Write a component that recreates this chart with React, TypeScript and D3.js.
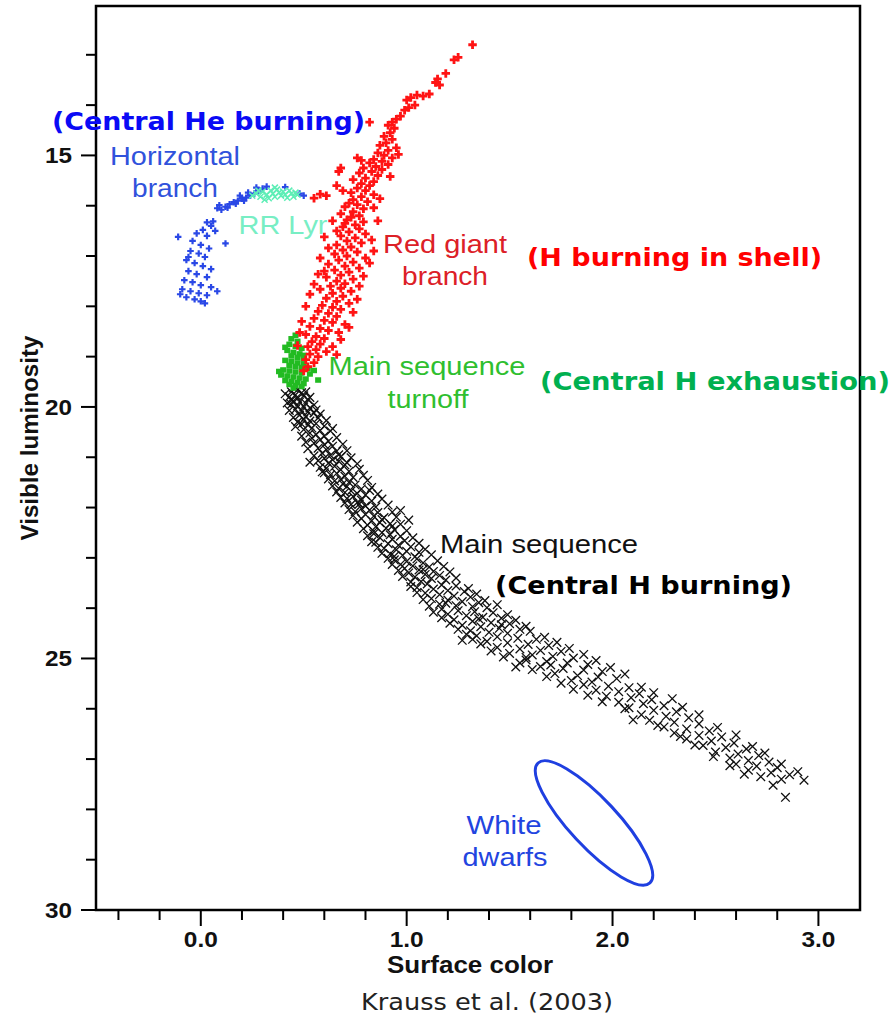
import React from "react";
import * as d3 from "d3";

// [surface colour, visible magnitude]
const mainSequence: [number, number][] = [
  [0.45,19.62],[0.47,19.66],[0.44,19.70],[0.49,19.72],[0.46,19.76],[0.50,19.78],[0.43,19.80],[0.47,19.83],[0.52,19.85],[0.45,19.88],[0.48,19.90],[0.51,19.93],[0.44,19.95],[0.47,19.98],[0.50,20.00],[0.53,20.02],
  [0.46,20.05],[0.49,20.08],[0.52,20.10],[0.55,20.12],[0.48,20.16],[0.51,20.19],[0.57,20.22],[0.50,20.25],[0.53,20.28],[0.47,20.30],[0.56,20.33],[0.52,20.36],[0.60,20.38],[0.54,20.42],[0.50,20.45],[0.58,20.47],[0.63,20.48],
  [0.53,20.52],[0.56,20.55],[0.60,20.58],[0.54,20.62],[0.58,20.65],[0.62,20.68],[0.55,20.72],[0.60,20.75],[0.64,20.78],[0.57,20.82],[0.61,20.85],[0.66,20.88],[0.59,20.92],[0.63,20.96],[0.68,20.99],
  [0.60,21.02],[0.64,21.05],[0.53,21.10],[0.67,21.08],[0.62,21.12],[0.70,21.15],[0.65,21.18],[0.61,21.22],[0.68,21.25],[0.72,21.28],[0.66,21.32],[0.63,21.35],[0.70,21.38],[0.74,21.40],[0.68,21.44],[0.65,21.47],[0.72,21.50],
  [0.69,21.53],[0.75,21.55],[0.71,21.58],[0.67,21.62],[0.78,21.63],[0.73,21.67],[0.70,21.70],[0.76,21.72],[0.80,21.75],[0.74,21.78],[0.71,21.82],[0.78,21.85],[0.83,21.87],[0.76,21.90],[0.73,21.94],[0.80,21.97],[0.85,21.99],
  [0.78,22.02],[0.82,22.05],[0.97,22.06],[0.75,22.08],[0.86,22.10],[0.80,22.14],[0.84,22.17],[0.89,22.20],[0.78,22.22],[1.01,22.25],[0.83,22.26],[0.87,22.30],[0.92,22.32],[0.81,22.35],[0.85,22.38],[0.90,22.41],[0.94,22.44],[0.84,22.47],[0.88,22.50],
  [0.84,22.52],[0.92,22.54],[0.97,22.57],[0.87,22.60],[0.93,22.63],[0.99,22.66],[0.85,22.69],[0.91,22.72],[0.96,22.75],[1.02,22.78],[0.89,22.81],[0.95,22.84],[1.00,22.87],[1.06,22.89],[0.92,22.92],[0.98,22.95],[1.04,22.98],
  [1.05,23.02],[0.94,23.04],[1.00,23.07],[1.08,23.10],[0.97,23.13],[1.03,23.16],[1.11,23.18],[0.99,23.21],[1.06,23.24],[1.13,23.27],[1.01,23.30],[1.09,23.33],[1.16,23.35],[1.04,23.38],[1.12,23.41],[1.19,23.44],[1.07,23.47],
  [1.10,23.52],[1.17,23.54],[1.24,23.56],[1.05,23.59],[1.13,23.62],[1.20,23.65],[1.28,23.67],[1.09,23.70],[1.16,23.73],[1.23,23.76],[1.31,23.78],[1.12,23.81],[1.20,23.84],[1.27,23.87],[1.35,23.89],[1.16,23.92],[1.24,23.95],[1.32,23.97],[1.39,23.99],
  [1.17,24.02],[1.25,24.05],[1.33,24.07],[1.42,24.09],[1.20,24.12],[1.29,24.15],[1.37,24.18],[1.46,24.20],[1.23,24.23],[1.32,24.26],[1.41,24.29],[1.50,24.31],[1.27,24.34],[1.36,24.37],[1.45,24.40],[1.55,24.42],[1.31,24.45],[1.40,24.48],[1.49,24.50],[1.27,24.64],[1.32,24.62],
  [1.34,24.55],[1.44,24.57],[1.54,24.60],[1.63,24.62],[1.39,24.66],[1.49,24.69],[1.59,24.72],[1.69,24.74],[1.44,24.78],[1.55,24.81],[1.65,24.84],[1.75,24.86],[1.50,24.90],[1.61,24.93],[1.71,24.96],[1.81,24.99],
  [1.53,25.17],[1.58,25.03],[1.68,25.06],[1.78,25.09],[1.88,25.12],[1.65,25.16],[1.76,25.20],[1.86,25.23],[1.95,25.26],[1.72,25.30],[1.83,25.34],[1.93,25.37],[2.02,25.40],[1.80,25.44],[1.90,25.47],
  [1.86,25.52],[1.98,25.55],[2.08,25.58],[1.92,25.63],[2.03,25.66],[2.13,25.70],[1.97,25.75],[2.09,25.78],[2.19,25.82],[2.03,25.87],[2.15,25.90],[2.25,25.94],[2.08,25.98],
  [2.20,26.03],[2.31,26.06],[2.14,26.12],[2.26,26.15],[2.37,26.18],[2.18,26.23],[2.30,26.27],[2.42,26.30],[2.25,26.36],[2.36,26.40],[2.47,26.44],[2.30,26.48],
  [2.42,26.53],[2.53,26.56],[2.36,26.60],[2.48,26.64],[2.59,26.68],[2.44,26.73],[2.55,26.77],[2.65,26.80],[2.50,26.86],[2.61,26.90],[2.71,26.93],[2.57,26.98],
  [2.66,27.03],[2.76,27.06],[2.60,27.10],[2.70,27.14],[2.80,27.17],[2.66,27.22],[2.77,27.27],[2.86,27.31],[2.72,27.35],[2.82,27.40],[2.93,27.42],[2.84,27.76],
];

// extra main-sequence stars along the edges of the band
const mainSequenceEdge: [number, number][] = [
  [0.41,19.74],[0.53,19.81],[0.42,19.92],[0.55,19.96],[0.43,20.07],[0.58,20.14],[0.45,20.21],[0.61,20.27],[0.46,20.39],[0.64,20.43],[0.49,20.34],[0.56,20.06],[0.44,19.87],[0.51,19.70],
  [0.49,20.58],[0.66,20.61],[0.51,20.70],[0.69,20.74],[0.52,20.83],[0.71,20.87],[0.55,20.97],[0.73,21.01],[0.57,21.07],[0.76,21.13],[0.58,21.20],[0.77,21.24],[0.60,21.31],[0.79,21.36],[0.62,21.43],[0.81,21.46],[0.67,20.95],[0.59,21.29],[0.71,21.11],
  [0.64,21.57],[0.83,21.60],[0.66,21.69],[0.86,21.73],[0.68,21.80],[0.88,21.83],[0.70,21.91],[0.91,21.95],[0.72,22.04],[0.93,22.09],[0.74,22.16],[0.95,22.19],[0.76,22.29],[0.97,22.33],[0.79,22.42],[1.00,22.46],[0.82,21.66],[0.77,21.93],[0.88,22.24],[0.93,22.37],
  [0.81,22.56],[1.03,22.60],[0.83,22.68],[1.06,22.71],[0.86,22.79],[1.09,22.83],[0.88,22.91],[1.12,22.94],[0.91,23.01],[1.15,23.06],[0.93,23.13],[1.18,23.17],[0.96,23.25],[1.21,23.28],[0.98,23.37],[1.24,23.40],[1.02,23.48],[0.94,22.97],[1.08,23.23],
  [1.02,23.57],[1.30,23.61],[1.05,23.69],[1.34,23.72],[1.08,23.83],[1.38,23.85],[1.11,23.96],[1.44,23.93],[1.13,24.08],[1.49,24.13],[1.17,24.19],[1.53,24.24],[1.21,24.30],[1.58,24.36],[1.25,24.42],[1.60,24.46],[1.19,23.90],[1.35,24.21],[1.46,24.33],
  [1.29,24.52],[1.67,24.58],[1.36,24.71],[1.73,24.68],[1.41,24.85],[1.79,24.80],[1.47,24.97],[1.86,24.92],[1.55,25.09],[1.92,25.04],[1.61,25.22],[1.99,25.18],[1.68,25.36],[2.06,25.31],[1.75,25.49],[1.58,24.98],[1.70,25.13],
  [1.81,25.61],[2.14,25.57],[1.88,25.73],[2.20,25.68],[1.95,25.86],[2.29,25.80],[2.06,26.00],[2.34,25.97],[2.10,26.22],[2.42,26.12],[2.22,26.33],[2.51,26.37],[2.33,26.55],[2.60,26.52],[2.40,26.72],[2.68,26.75],[2.49,26.95],[2.74,26.88],[2.57,27.13],[2.82,27.10],[2.64,27.30],[2.90,27.25],[2.78,27.52],
];

const turnoff: [number, number][] = [
  [0.46,18.58],[0.44,18.65],[0.47,18.70],[0.43,18.76],[0.46,18.80],[0.49,18.84],[0.42,18.88],[0.45,18.92],[0.48,18.95],[0.44,18.99],[0.47,19.02],[0.50,19.05],
  [0.41,19.08],[0.44,19.10],[0.47,19.13],[0.50,19.15],[0.43,19.18],[0.46,19.20],[0.49,19.22],[0.52,19.24],[0.40,19.27],[0.43,19.29],[0.46,19.31],[0.49,19.33],
  [0.53,19.35],[0.39,19.37],[0.42,19.39],[0.45,19.41],[0.48,19.43],[0.51,19.45],[0.57,19.47],[0.41,19.48],[0.44,19.50],[0.47,19.52],[0.50,19.54],[0.43,19.56],
  [0.46,19.58],[0.49,19.60],[0.45,19.63],[0.38,19.30],[0.55,19.28],[0.50,18.98],[0.41,18.82],
];

const redGiants: [number, number][] = [
  [1.32,12.80],[1.25,13.05],[1.23,13.10],[1.19,13.37],[1.15,13.48],[1.14,13.55],[1.16,13.60],[1.11,13.78],[1.08,13.82],[1.05,13.80],[1.02,13.85],[1.00,13.90],
  [1.04,14.00],[1.01,14.05],[0.99,14.10],[0.97,14.22],[0.95,14.28],[0.93,14.34],[0.91,14.40],[0.94,14.46],[0.92,14.55],[0.82,14.34],[0.89,14.62],[0.93,14.68],
  [0.90,14.75],[0.87,14.80],[0.95,14.85],[0.91,14.90],[0.86,14.95],[0.89,15.00],[0.93,15.05],[0.84,15.08],[0.76,15.05],[0.78,15.10],[0.88,15.12],[0.82,15.15],
  [0.91,15.18],[0.85,15.22],[0.79,15.25],[0.68,15.25],[0.67,15.32],[0.88,15.28],[0.83,15.32],[0.77,15.35],[0.86,15.40],[0.80,15.45],[0.74,15.48],[0.84,15.52],
  [0.78,15.56],[0.66,15.60],[0.58,15.77],[0.55,15.85],[0.61,15.80],[0.82,15.60],[0.76,15.65],[0.80,15.70],[0.73,15.74],[0.84,15.78],[0.78,15.82],[0.74,15.88],
  [0.81,15.92],[0.76,15.98],[0.70,16.02],[0.79,16.06],[0.74,16.12],[0.68,16.16],[0.77,16.20],[0.73,16.23],[0.64,16.30],[0.71,16.28],[0.79,16.32],[0.75,16.38],
  [0.69,16.42],[0.77,16.46],[0.72,16.52],[0.80,16.56],[0.68,16.60],[0.75,16.64],[0.71,16.70],[0.78,16.74],[0.66,16.78],[0.73,16.82],[0.69,16.88],[0.76,16.92],
  [0.65,16.96],[0.71,17.00],[0.80,17.04],[0.67,17.08],[0.74,17.12],[0.62,17.16],[0.70,17.20],[0.77,17.24],[0.65,17.28],[0.60,17.30],[0.72,17.32],[0.68,17.38],
  [0.61,17.42],[0.74,17.46],[0.66,17.50],[0.70,17.55],[0.63,17.60],[0.58,17.66],[0.68,17.64],[0.73,17.70],[0.64,17.74],[0.69,17.80],[0.61,17.84],[0.66,17.90],
  [0.72,17.94],[0.59,17.98],[0.64,18.02],[0.68,18.06],[0.57,18.10],[0.62,18.14],[0.66,18.20],[0.55,18.24],[0.60,18.28],[0.64,18.32],[0.70,18.36],[0.53,18.40],
  [0.58,18.44],[0.62,18.48],[0.67,18.52],[0.51,18.56],[0.56,18.60],[0.60,18.64],[0.54,18.70],[0.58,18.75],[0.52,18.80],[0.56,18.86],[0.61,18.90],[0.53,18.95],
  [0.57,19.00],[0.51,19.06],[0.55,19.12],[0.52,19.20],[0.50,19.28],
  [0.60,16.62],[0.83,16.68],[0.62,16.84],[0.84,16.90],[0.58,17.04],[0.82,17.14],[0.57,17.36],[0.79,17.40],[0.55,17.56],[0.77,17.60],[0.53,17.76],[0.76,17.86],
  [0.51,18.00],[0.74,18.12],[0.49,18.30],[0.72,18.42],[0.48,18.52],[0.68,18.66],[0.47,18.78],[0.64,18.80],[0.66,18.96],[0.86,16.30],[0.84,16.04],[0.87,15.86],
  [0.69,15.70],[0.70,16.35],[0.92,15.42],[0.96,14.98],[0.72,15.95],[0.66,16.50],
];

const horizontalBranch: [number, number][] = [
  [0.08,16.05],[0.10,16.08],[0.12,16.02],[0.09,15.99],[0.14,15.97],[0.13,16.04],[0.16,15.93],[0.18,15.90],[0.17,15.96],[0.20,15.86],[0.22,15.84],[0.21,15.90],
  [0.24,15.80],[0.26,15.76],[0.23,15.74],[0.28,15.70],[0.30,15.66],[0.27,15.64],[0.32,15.62],[0.41,15.63],[0.50,15.80],[0.48,15.76],[0.19,15.80],
  [0.03,16.33],[0.06,16.31],[0.05,16.40],[-0.11,16.62],[0.12,16.75],[0.01,16.48],[-0.02,16.55],[0.03,16.60],[-0.04,16.70],[0.00,16.78],[0.04,16.85],
  [-0.05,16.90],[-0.01,16.95],[0.02,17.02],[-0.07,17.08],[-0.03,17.14],[0.01,17.20],[0.05,17.26],[-0.06,17.30],[-0.02,17.36],[0.03,17.42],[-0.08,17.48],
  [-0.04,17.52],[0.00,17.58],[0.05,17.62],[-0.09,17.66],[-0.05,17.70],[-0.01,17.74],[0.03,17.78],[-0.07,17.82],[-0.03,17.86],[0.00,17.90],[0.02,17.94],
  [-0.10,17.76],[0.08,17.70],[0.07,16.50],[-0.06,17.02],
];

const rrLyrae: [number, number][] = [
  [0.25,15.80],[0.27,15.76],[0.29,15.82],[0.30,15.72],[0.32,15.78],[0.33,15.85],[0.34,15.70],[0.35,15.76],[0.36,15.82],[0.37,15.68],[0.38,15.74],[0.39,15.80],
  [0.40,15.72],[0.41,15.78],[0.42,15.84],[0.43,15.70],[0.44,15.76],[0.45,15.82],[0.46,15.74],[0.47,15.78],[0.31,15.88],[0.36,15.64],[0.28,15.70],
];

// white dwarf region: centre in data units
const whiteDwarfCentre: [number, number] = [1.91, 28.27];

const yMinorTicks = d3.range(13, 31);
const yMajorTicks = [15, 20, 25, 30];
const xMinorTicks = d3.range(-4, 31, 2).map((d) => d / 10);
const xMajorTicks = [0, 1, 2, 3];
const xTickLabels = ["0.0", "1.0", "2.0", "3.0"];

const W = 892;
const H = 1018;

const x = d3.scaleLinear().domain([-0.509, 3.202]).range([96, 860]);
const y = d3.scaleLinear().domain([12.03, 30]).range([6, 910]);

const crossRed = d3.symbol().type(d3.symbolCross).size(40)() as string;
const crossBlue = d3.symbol().type(d3.symbolCross).size(24)() as string;
const xMark = "M-4.3,-4.3L4.3,4.3M-4.3,4.3L4.3,-4.3";
const xMarkSmall = "M-3,-3L3,3M-3,3L3,-3";

const helv = "'Liberation Sans', Arial, Helvetica, sans-serif";
const comic = "'Comic Sans MS', 'DejaVu Sans', sans-serif";

export default function App() {
  const ms = mainSequence.concat(mainSequenceEdge);
  return (
    <svg width={W} height={H} style={{ position: "absolute", left: 0, top: 0, background: "#fff" }}>
      {/* main sequence */}
      <g stroke="#111" strokeWidth={1.3} fill="none">
        {ms.map((d, i) => (
          <path key={i} d={xMark} transform={`translate(${x(d[0])},${y(d[1])})`} />
        ))}
      </g>
      {/* turnoff */}
      <g fill="#22bb22">
        {turnoff.map((d, i) => (
          <rect key={i} x={x(d[0]) - 3} y={y(d[1]) - 3} width={6} height={5.5} />
        ))}
      </g>
      {/* red giants */}
      <g fill="#ff1414">
        {redGiants.map((d, i) => (
          <path key={i} d={crossRed} transform={`translate(${x(d[0])},${y(d[1])})`} />
        ))}
      </g>
      {/* horizontal branch */}
      <g fill="#2a48e6">
        {horizontalBranch.map((d, i) => (
          <path key={i} d={crossBlue} transform={`translate(${x(d[0])},${y(d[1])})`} />
        ))}
      </g>
      {/* RR Lyrae */}
      <g stroke="#5eeeb6" strokeWidth={1.5} fill="none">
        {rrLyrae.map((d, i) => (
          <path key={i} d={xMarkSmall} transform={`translate(${x(d[0])},${y(d[1])})`} />
        ))}
      </g>

      {/* white dwarf ellipse */}
      <ellipse
        cx={0}
        cy={0}
        rx={82}
        ry={24}
        transform={`translate(${x(whiteDwarfCentre[0])},${y(whiteDwarfCentre[1])}) rotate(47)`}
        fill="none"
        stroke="#1f3fe0"
        strokeWidth={3}
      />

      {/* frame */}
      <rect x={96} y={6} width={764} height={904} fill="none" stroke="#000" strokeWidth={2.5} />

      {/* y ticks */}
      <g stroke="#000" strokeWidth={2}>
        {yMinorTicks.map((t) => (
          <line key={t} x1={yMajorTicks.includes(t) ? 81 : 86} x2={96} y1={y(t)} y2={y(t)} />
        ))}
      </g>
      <g fontFamily={helv} fontWeight="bold" fontSize={22} textAnchor="end" fill="#111">
        {yMajorTicks.map((t) => (
          <text key={t} x={72} y={y(t) + 8} textLength={27} lengthAdjust="spacingAndGlyphs">{t}</text>
        ))}
      </g>
      {/* x ticks */}
      <g stroke="#000" strokeWidth={2}>
        {xMinorTicks.map((t) => (
          <line key={t} x1={x(t)} x2={x(t)} y1={910} y2={xMajorTicks.includes(t) ? 926 : 920} />
        ))}
      </g>
      <g fontFamily={helv} fontWeight="bold" fontSize={22} textAnchor="middle" fill="#111">
        {xMajorTicks.map((t, i) => (
          <text key={t} x={x(t)} y={947} textLength={34} lengthAdjust="spacingAndGlyphs">{xTickLabels[i]}</text>
        ))}
      </g>

      {/* axis titles */}
      <text x={470} y={973} textAnchor="middle" fontFamily={helv} fontWeight="bold" fontSize={24} fill="#111"
        textLength={166} lengthAdjust="spacingAndGlyphs">Surface color</text>
      <text transform="translate(38,438) rotate(-90)" textAnchor="middle" fontFamily={helv} fontWeight="bold" fontSize={24} fill="#111"
        textLength={205} lengthAdjust="spacingAndGlyphs">Visible luminosity</text>
      <text x={487} y={1010} textAnchor="middle" fontFamily="'DejaVu Sans', Verdana, sans-serif" fontSize={23} fill="#222"
        textLength={252} lengthAdjust="spacingAndGlyphs">Krauss et al. (2003)</text>

      {/* region labels */}
      <g fontFamily={helv} fontSize={25} textAnchor="middle">
        <text x={175} y={165} fill="#3052dc" textLength={130} lengthAdjust="spacingAndGlyphs">Horizontal</text>
        <text x={175} y={197} fill="#3052dc" textLength={86} lengthAdjust="spacingAndGlyphs">branch</text>
        <text x={283} y={234} fill="#78eec4" textLength={89} lengthAdjust="spacingAndGlyphs">RR Lyr</text>
        <text x={445} y={253} fill="#dc2027" textLength={124} lengthAdjust="spacingAndGlyphs">Red giant</text>
        <text x={445} y={285} fill="#dc2027" textLength={86} lengthAdjust="spacingAndGlyphs">branch</text>
        <text x={427} y={375} fill="#2fbf2f" textLength={197} lengthAdjust="spacingAndGlyphs">Main sequence</text>
        <text x={428} y={408} fill="#2fbf2f" textLength={81} lengthAdjust="spacingAndGlyphs">turnoff</text>
        <text x={539} y={553} fill="#111" textLength={198} lengthAdjust="spacingAndGlyphs">Main sequence</text>
        <text x={504} y={834} fill="#2244e0" textLength={75} lengthAdjust="spacingAndGlyphs">White</text>
        <text x={505} y={866} fill="#2244e0" textLength={85} lengthAdjust="spacingAndGlyphs">dwarfs</text>
      </g>
      <g fontFamily={comic} fontWeight="bold" fontSize={25}>
        <text x={52} y={130} fill="#0a0af5" textLength={313} lengthAdjust="spacingAndGlyphs">(Central He burning)</text>
        <text x={527} y={266} fill="#ff0000" textLength={295} lengthAdjust="spacingAndGlyphs">(H burning in shell)</text>
        <text x={540} y={390} fill="#00b050" textLength={350} lengthAdjust="spacingAndGlyphs">(Central H exhaustion)</text>
        <text x={495} y={594} fill="#000" textLength={297} lengthAdjust="spacingAndGlyphs">(Central H burning)</text>
      </g>
    </svg>
  );
}
